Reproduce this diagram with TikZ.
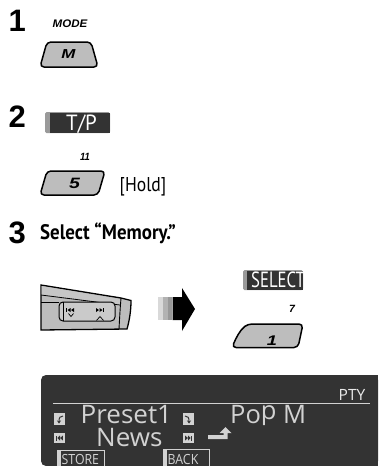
\documentclass[tikz,border=0pt]{standalone}
\usepackage{fontspec}
\setmainfont{Liberation Sans}
\newfontfamily\condfont{PT Sans}
\newfontfamily\wide[FakeStretch=1.3]{Liberation Sans}
\newfontfamily\dispfont{Open Sans}
\usetikzlibrary{arrows.meta}
\definecolor{dark}{HTML}{333333}
\definecolor{btngray}{HTML}{BDBDBD}
\definecolor{strip}{HTML}{9A9A9A}
\definecolor{lcd}{HTML}{D2D2D2}
\newcommand{\sx}[2]{\scalebox{#1}[1]{#2}}
\begin{document}
\begin{tikzpicture}[x=1pt,y=-1pt,
  stepnum/.style={anchor=base west,inner sep=0pt,font=\fontsize{31}{31}\selectfont\bfseries},
  btn/.style={draw=black,line width=1.5pt,fill=btngray,rounded corners=4pt},
  small/.style={inner sep=0pt,font=\fontsize{10.5}{10.5}\selectfont\bfseries\itshape},
  lab/.style={inner sep=0pt,anchor=base west,text=white},
  disp/.style={inner sep=0pt,anchor=base west,text=lcd,font=\dispfont\fontsize{25.5}{25.5}\selectfont},
  sq/.style={fill=lcd},
  ico/.style={fill=dark},
  icob/.style={fill=black}]
\useasboundingbox (0,0) rectangle (378,466);
% ---- step 1
\node[stepnum] (n1) at (8.5,31.5) {1};
\node[inner sep=0pt,font=\fontsize{11}{11}\selectfont\bfseries\itshape] (mode) at (70,23.5) {\sx{1.05}{MODE}};
\draw[btn] (40,67) -- (47,42) -- (91,42) -- (98,67) -- cycle;
\node[inner sep=0pt,font=\wide\fontsize{13}{13}\selectfont\bfseries\itshape] (m) at (68.5,54.5) {M};
% ---- step 2
\node[stepnum] (n2) at (8.5,127.5) {2};
\fill[strip, rounded corners=1.5pt] (45,112) rectangle (110,133);
\fill[dark] (49.5,112.5) rectangle (110,133);
\node[lab,font=\condfont\fontsize{22}{22}\selectfont] (tp) at (66,130) {\sx{0.95}{T/P}};
\node[small] (n11) at (85,157) {\sx{0.9}{11}};
\draw[btn] (40,195) -- (47,171) -- (105,171) -- (98,195) -- cycle;
\node[inner sep=0pt,font=\wide\fontsize{15}{15}\selectfont\bfseries\itshape] (five) at (74.5,183) {5};
\node[inner sep=0pt,anchor=base west,font=\condfont\fontsize{20}{20}\selectfont] (hold) at (119.5,191.5) {\sx{0.88}{[Hold]}};
% ---- step 3
\node[stepnum] (n3) at (8.5,243.5) {3};
\node[inner sep=0pt,anchor=base west,font=\condfont\fontsize{21}{21}\selectfont\bfseries] (sel) at (40,239.5) {\sx{0.9}{Select “Memory.”}};
% rocker switch
\draw[line width=1.3pt,fill=btngray] (41,285) -- (121,298) -- (131,300.5) .. controls (131,312) and (129,322) .. (127,329) -- (41,330) -- cycle;
\fill[gray!45] (41.7,286.2) -- (120.5,299.2) -- (120,305) -- (41.7,295) -- cycle;
\draw[line width=0.8pt] (41,295) -- (120,305);
\draw[line width=0.8pt] (41,302) -- (59,302);
\draw[line width=0.9pt] (121,298) .. controls (120,310) and (119.5,320) .. (119,329);
\draw[line width=1pt,fill=btngray!80!white,rounded corners=4pt] (59,302) rectangle (115,321);
\draw[line width=0.6pt] (63,302) -- (63,321);
% rocker icons
\fill[icob] (66.4,308) rectangle (67.3,312);
\fill[icob] (70.5,308) -- (67.5,310) -- (70.5,312) -- cycle;
\fill[icob] (74,308) -- (71,310) -- (74,312) -- cycle;
\draw[line width=0.7pt] (68.5,313.5) -- (71,316.5) -- (73.5,313.5);
\fill[icob] (96,308) -- (99,310) -- (96,312) -- cycle;
\fill[icob] (99.5,308) -- (102.5,310) -- (99.5,312) -- cycle;
\fill[icob] (102.8,308) rectangle (103.7,312);
\draw[line width=0.7pt] (96.5,320.5) -- (100,316.5) -- (103.5,320.5);
% big arrow
\fill[gray!30] (158,297) rectangle (163,320);
\fill[gray!60] (163,297) rectangle (167.7,320);
\fill[gray!85!black!70] (167.7,297) rectangle (172.4,320);
\fill[black] (172.7,297) -- (182,297) -- (182,288) -- (195,309) -- (182,331) -- (182,320) -- (172.7,320) -- cycle;
% SELECT
\fill[strip, rounded corners=1.5pt] (243,270) rectangle (303,290);
\fill[dark] (247,270.5) rectangle (303,290);
\node[lab,font=\condfont\fontsize{22}{22}\selectfont] (select) at (251,287.5) {\sx{0.76}{SELECT}};
\node[small] (n7) at (292,308.5) {7};
\draw[btn] (232,347.5) .. controls (236,338) and (240,330) .. (248,324) -- (303,324) -- (298,347.5) -- cycle;
\node[inner sep=0pt,font=\wide\fontsize{14}{14}\selectfont\bfseries\itshape] (one) at (272,340.5) {1};
% ---- display
\fill[dark, rounded corners=5pt] (41,466) -- (41,375) -- (378,375) -- (378,466) -- cycle;
\fill[dark] (300,375) rectangle (378,466);
\node[inner sep=0pt,anchor=base east,text=lcd!50!white,font=\dispfont\fontsize{15.5}{15.5}\selectfont] (pty) at (365.5,400) {PTY};
\draw[lcd, line width=1pt] (53,403) -- (370,403);
\fill[sq] (54,413) rectangle (65,425);
\fill[sq] (183,413) rectangle (194,425);
\fill[sq] (54,433) rectangle (65,443);
\fill[sq] (183,433) rectangle (194,443);
\draw[dark,line width=1pt,-{Stealth[length=3pt,width=4pt]}] (63,416) .. controls (60,416) and (59,417.5) .. (59,423.5);
\draw[dark,line width=1pt,-{Stealth[length=3pt,width=4pt]}] (185,416) .. controls (188,416) and (189,417.5) .. (189,423.5);
\fill[ico] (56.3,435.5) rectangle (57.2,440.5);
\fill[ico] (60,435.5) -- (57.4,438) -- (60,440.5) -- cycle;
\fill[ico] (62.8,435.5) -- (60.2,438) -- (62.8,440.5) -- cycle;
\fill[ico] (185.2,435.5) -- (187.8,438) -- (185.2,440.5) -- cycle;
\fill[ico] (188,435.5) -- (190.6,438) -- (188,440.5) -- cycle;
\fill[ico] (190.8,435.5) rectangle (191.7,440.5);
\node[disp] (preset) at (80.5,423.5) {\sx{1.02}{Preset1}};
\node[disp] (news) at (96,446) {\sx{1.02}{News}};
\node[disp] (pop) at (230,423) {Po\raisebox{0.15em}{p} M};
\fill[lcd] (208,435) -- (223.5,435) -- (223.5,433) -- (219.5,433) -- (225.5,427) -- (231.5,433) -- (227.5,433) -- (227.5,439) -- (208,439) -- cycle;
% STORE / BACK
\draw[lcd,line width=0.8pt] (57,466.5) -- (57,450.5) -- (104,450.5) -- (104,466.5);
\fill[lcd] (57,450.5) rectangle (60.5,466);
\node[inner sep=0pt,anchor=base west,text=lcd,font=\dispfont\fontsize{14}{14}\selectfont] (store) at (61.5,464) {\sx{0.88}{STORE}};
\draw[lcd,line width=0.8pt] (163,466.5) -- (163,449.5) -- (209,449.5) -- (209,466.5);
\fill[lcd] (163,449.5) rectangle (166.5,466);
\node[inner sep=0pt,anchor=base west,text=lcd,font=\dispfont\fontsize{14}{14}\selectfont] (back) at (167.5,464) {\sx{0.88}{BACK}};
\end{tikzpicture}
\end{document}
